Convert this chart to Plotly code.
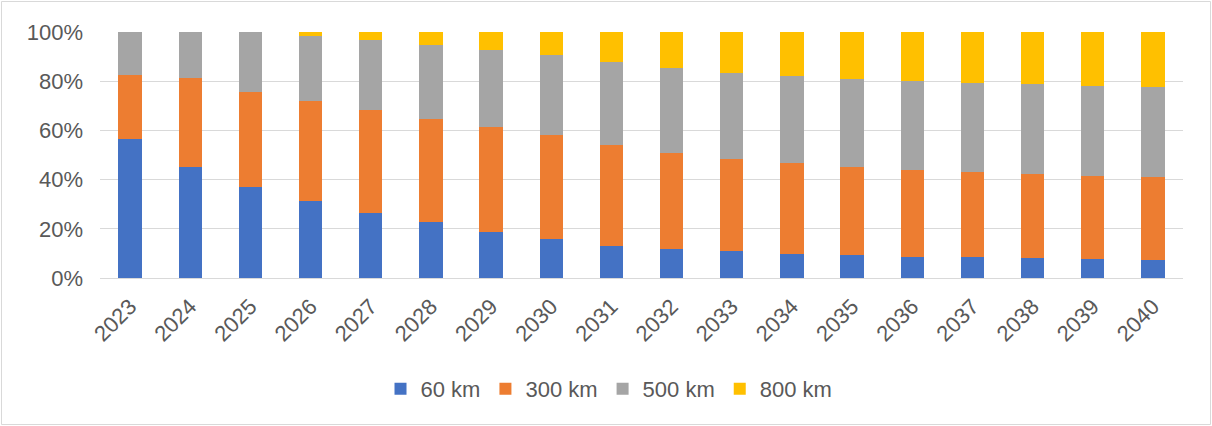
import plotly.graph_objects as go

years = [str(y) for y in range(2023, 2041)]
km60 = [56.4, 45.3, 36.8, 31.1, 26.5, 22.6, 18.5, 15.7, 13.2, 11.8, 10.8, 9.9, 9.2, 8.6, 8.4, 8.0, 7.7, 7.4]
km300 = [26.3, 36.2, 39.0, 40.7, 41.6, 42.1, 42.7, 42.3, 40.7, 38.9, 37.4, 36.7, 35.9, 35.5, 34.6, 34.3, 33.9, 33.7]
km500 = [17.3, 18.5, 24.2, 26.7, 28.7, 29.9, 31.5, 32.8, 33.9, 34.6, 35.2, 35.4, 35.7, 35.9, 36.3, 36.6, 36.5, 36.6]
km800 = [0.0, 0.0, 0.0, 1.5, 3.2, 5.4, 7.3, 9.2, 12.2, 14.7, 16.6, 18.0, 19.2, 20.0, 20.7, 21.1, 21.9, 22.3]

series = [
    ("60 km", km60, "#4472C4"),
    ("300 km", km300, "#ED7D31"),
    ("500 km", km500, "#A5A5A5"),
    ("800 km", km800, "#FFC000"),
]

fig = go.Figure()
for name, vals, color in series:
    fig.add_trace(go.Bar(
        x=years, y=vals, name=name,
        marker=dict(color=color, line=dict(width=0)),
    ))

W, H = 1212, 426
ml, mr, mt, mb = 100, 29, 32, 148
pw, ph = W - ml - mr, H - mt - mb

font = dict(family="Liberation Sans, Arial, sans-serif", size=22, color="#595959")

fig.update_layout(
    width=W, height=H,
    barmode="stack", barnorm="percent", bargap=0.61,
    margin=dict(l=ml, r=mr, t=mt, b=mb),
    paper_bgcolor="white", plot_bgcolor="white",
    font=font,
    showlegend=True,
    legend=dict(orientation="h", x=0.47, xanchor="center", y=(mt + ph - 389) / ph, yanchor="middle",
                font=font, itemwidth=30, traceorder="normal"),
    xaxis=dict(tickangle=-45, showgrid=False, showline=True, linecolor="#D9D9D9", linewidth=1,
               ticks="", tickfont=font, ticklabelstandoff=6),
    yaxis=dict(range=[0, 100], dtick=20, ticksuffix="%", showgrid=True, gridcolor="#D9D9D9",
               gridwidth=1, zeroline=False, showline=False, ticks="", tickfont=font,
               ticklabelstandoff=16),
    shapes=[dict(type="rect", xref="paper", yref="paper",
                 x0=(1.5 - ml) / pw, x1=(W - 1.5 - ml) / pw,
                 y0=(mt + ph - (H - 1.5)) / ph, y1=(mt + ph - 1.5) / ph,
                 line=dict(color="#D9D9D9", width=1), fillcolor="rgba(0,0,0,0)", layer="below")],
)

fig.write_html("out.html", config={"displayModeBar": False},
               post_script="document.body.style.margin='0';document.body.style.overflow='hidden';")
